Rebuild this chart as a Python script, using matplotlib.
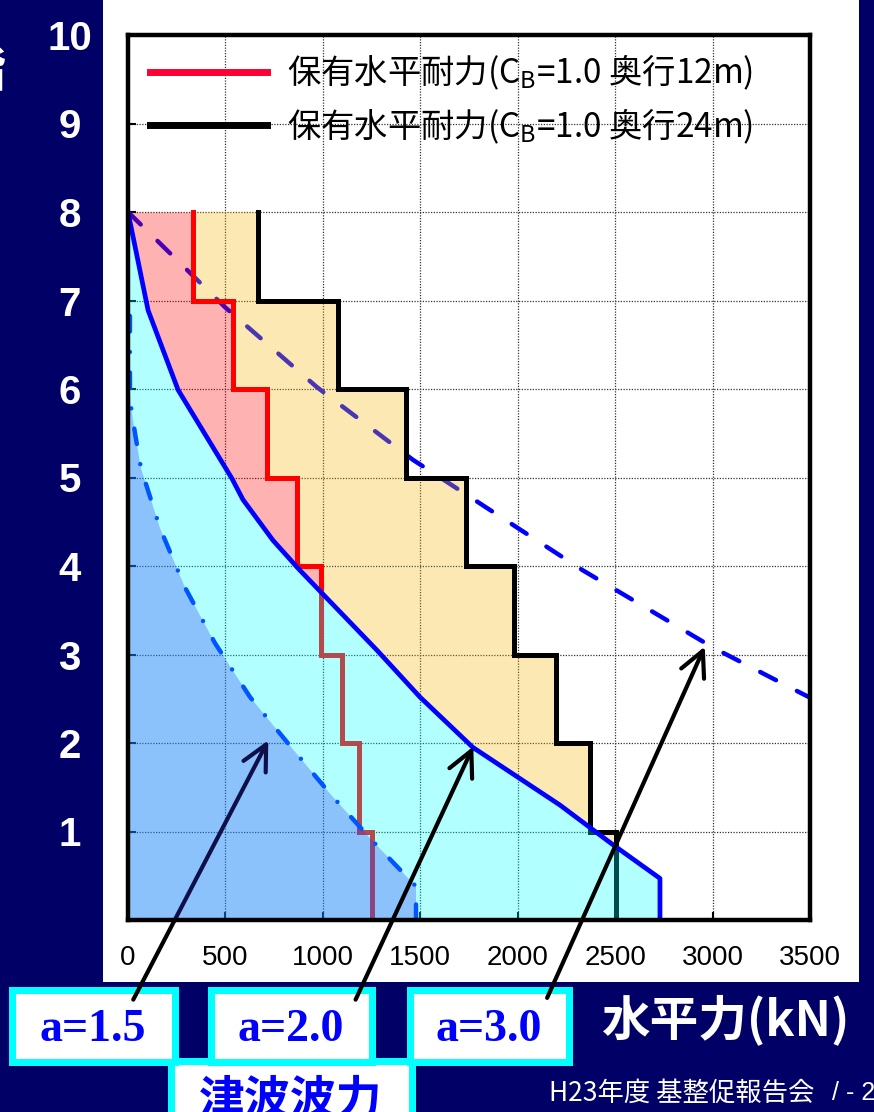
import numpy as np
import matplotlib
matplotlib.use("Agg")
import matplotlib.pyplot as plt
from matplotlib.patches import Rectangle, FancyArrowPatch
from matplotlib.lines import Line2D

# ---------------- data ----------------
story_levels = [0, 1, 2, 3, 4, 5, 6, 7]          # bottom of each story band
cap_12m = [1252, 1185, 1098, 990, 867, 713, 539, 333]     # 保有水平耐力 奥行12m
cap_24m = [2504, 2370, 2196, 1980, 1734, 1426, 1078, 667]  # 保有水平耐力 奥行24m

# tsunami wave force curves (x = force kN, y = level)
a20_x = [2730, 2730, 2489, 2216, 1770, 1498, 1277, 883, 744, 590, 533, 257, 103, 26, 0]
a20_y = [0, 0.47, 0.85, 1.30, 1.95, 2.52, 3.05, 3.95, 4.29, 4.75, 4.99, 5.99, 6.89, 7.72, 8]

a15_x = [1478, 1478, 1252, 1036, 831, 626, 446, 292, 164, 67, 36, 14, 10, 10]
a15_y = [0, 0.38, 0.90, 1.43, 1.97, 2.52, 3.13, 3.76, 4.43, 5.10, 5.50, 5.82, 6.00, 7.00]

a30_x = [0, 500, 970, 1462, 2335, 3001, 3422, 3600]
a30_y = [8, 6.92, 6.02, 5.20, 3.95, 3.08, 2.60, 2.40]

x_ticks = [0, 500, 1000, 1500, 2000, 2500, 3000, 3500]
y_ticks = [0, 1, 2, 3, 4, 5, 6, 7, 8, 9, 10]
y_ticklabels = ["", "1", "2", "3", "4", "5", "6", "7", "8", "9", "10"]

legend_labels = [r"保有水平耐力($\mathrm{C_B}$=1.0 奥行12m)",
                 r"保有水平耐力($\mathrm{C_B}$=1.0 奥行24m)"]
box_labels = ["a=1.5", "a=2.0", "a=3.0"]
# annotation arrows: tail (in box) -> head (on curve), data coords
arrow_tails = [(27, -0.90), (1168, -0.90), (2151, -0.88)]
arrow_heads = [(720, 2.03), (1772, 1.96), (2960, 3.09)]

# ---------------- style ----------------
NAVY = "#000066"
W, H = 874, 1112
plt.rcParams["font.family"] = ["Noto Sans CJK JP", "DejaVu Sans"]
plt.rcParams["mathtext.fontset"] = "custom"
plt.rcParams["mathtext.rm"] = "Noto Sans CJK JP"
plt.rcParams["mathtext.it"] = "Noto Sans CJK JP"


def fx(px):
    return px / W


def fy(py):
    return 1 - py / H


fig = plt.figure(figsize=(W / 100, H / 100), dpi=100, facecolor=NAVY)

# white slide panel
fig.add_artist(Rectangle((fx(103), fy(982)), fx(859) - fx(103), fy(0) - fy(982),
                         transform=fig.transFigure, facecolor="white",
                         edgecolor="none", zorder=-3))

ax = fig.add_axes([fx(128), fy(920), fx(810) - fx(128), fy(35) - fy(920)])
ax.set_xlim(0, 3500)
ax.set_ylim(0, 10)

# a=3.0 dashed (under the capacity fills)
ax.plot(a30_x, a30_y, color="#0000ff", lw=3.2, dashes=(4.0, 5.3),
        dash_capstyle="round", zorder=1.5, clip_on=True)

# capacity fills, clipped to outside the a=2.0 region
for i, lvl in enumerate(story_levels):
    yy = np.linspace(lvl, lvl + 1, 200)
    cc = np.interp(yy, a20_y, a20_x)
    r = np.full_like(yy, cap_12m[i], dtype=float)
    b = np.full_like(yy, cap_24m[i], dtype=float)
    ax.fill_betweenx(yy, cc, r, where=r > cc, interpolate=True,
                     color="#ff0000", alpha=0.3, lw=0, zorder=2)
    lo = np.maximum(cc, r)
    ax.fill_betweenx(yy, lo, b, where=b > lo, interpolate=True,
                     color="#f8b600", alpha=0.3, lw=0, zorder=2)


def step_path(caps):
    xs, ys = [], []
    for i in reversed(range(len(caps))):
        xs += [caps[i], caps[i]]
        ys += [story_levels[i] + 1, story_levels[i]]
    return xs, ys


sx, sy = step_path(cap_12m)
ax.plot(sx, sy, color="#ff0000", lw=3.6, zorder=2.5, solid_joinstyle="miter")
bx, by = step_path(cap_24m)
ax.plot(bx, by, color="#000000", lw=3.6, zorder=2.5, solid_joinstyle="miter")

# a=2.0 region (cyan, translucent)
ax.fill([0] + a20_x, [0] + a20_y, color="#00ffff", alpha=0.3, lw=0, zorder=3)

# a=1.5 region
ax.fill([0] + a15_x + [0], [0] + a15_y + [a15_y[-1]], color="#3535f7",
        alpha=0.3, lw=0, zorder=3.5)

ax.plot(a15_x, a15_y, color="#0055ff", lw=3.2, dashes=(3.5, 4.6, 0.01, 4.6),
        dash_capstyle="round", zorder=5)
ax.plot(a20_x, a20_y, color="#0000ff", lw=3.4, zorder=5)

# grid / ticks
ax.set_axisbelow(True)
ax.grid(True, color="#333333", lw=0.9, linestyle=(0, (1, 1.2)))
ax.set_xticks(x_ticks)
ax.set_xticklabels([str(v) for v in x_ticks], family="Liberation Sans",
                   fontsize=20, color="black")
ax.set_yticks(y_ticks)
ax.set_yticklabels(y_ticklabels, family="Liberation Sans", fontweight="bold",
                   fontsize=29, color="white")
ax.tick_params(axis="both", direction="in", length=6, width=1.5, color="black")
ax.tick_params(axis="x", pad=18)
ax.tick_params(axis="y", pad=42)
for lab in ax.get_yticklabels():
    lab.set_horizontalalignment("center")
for sp in ax.spines.values():
    sp.set_linewidth(3.2)
    sp.set_zorder(10)

# legend
handles = [Line2D([], [], color="#ff0033", lw=5),
           Line2D([], [], color="#000000", lw=5)]
ax.legend(handles, legend_labels, loc="upper left",
          bbox_to_anchor=((150 - 128) / 682, (920 - 53) / 885),
          borderaxespad=0, borderpad=0, frameon=False, fontsize=24,
          handlelength=3.5, handletextpad=0.62, labelspacing=0.42)

# arrows
for k, (t, h) in enumerate(zip(arrow_tails, arrow_heads)):
    arr = FancyArrowPatch(t, h, arrowstyle="->,head_length=0.9,head_width=0.45",
                          mutation_scale=20, lw=3.0, color="black",
                          shrinkA=0, shrinkB=0, clip_on=False,
                          zorder=3.2 if k == 0 else 8)
    ax.add_patch(arr)

# boxes
box_outer = [(8, 986, 178, 1065), (207, 986, 375, 1065), (406, 986, 572, 1065)]
tsunami_box = (167, 1057, 415, 1140)
bw = 7


def add_box(x0, y0, x1, y1, z):
    fig.add_artist(Rectangle((fx(x0 + bw / 2), fy(y1 - bw / 2)),
                             (x1 - x0 - bw) / W, (y1 - y0 - bw) / H,
                             transform=fig.transFigure, facecolor="white",
                             edgecolor="#00ffff", lw=bw * 0.72, zorder=z))


add_box(*tsunami_box, -2)
for (x0, y0, x1, y1), lab in zip(box_outer, box_labels):
    add_box(x0, y0, x1, y1, -2)
    fig.text(fx((x0 + x1) / 2), fy(1030), lab, ha="center", va="center",
             family="Liberation Serif", fontweight="bold", fontsize=33,
             color="#0000ff", zorder=-1)
fig.text(fx(291), fy(1100), "津波波力", ha="center", va="center",
         fontweight="bold", fontsize=33, color="#0000ff", zorder=-1)

fig.text(fx(725), fy(1020), "水平力(kN)", ha="center", va="center",
         fontweight="bold", fontsize=35, color="white", zorder=-1)
fig.text(fx(549), fy(1093), "H23年度 基整促報告会", ha="left", va="center",
         fontsize=19, color="white", zorder=-1)
fig.text(fx(832), fy(1093), "/ - 2", ha="left", va="center",
         family="Liberation Sans", fontsize=18, color="white", zorder=-1)
# partially visible vertical axis label at the far left edge
fig.text(fx(-20), fy(72), "階", ha="center", va="center", fontweight="bold",
         fontsize=36, color="white", zorder=-1)

fig.savefig("out.png", dpi=100, facecolor=NAVY)
